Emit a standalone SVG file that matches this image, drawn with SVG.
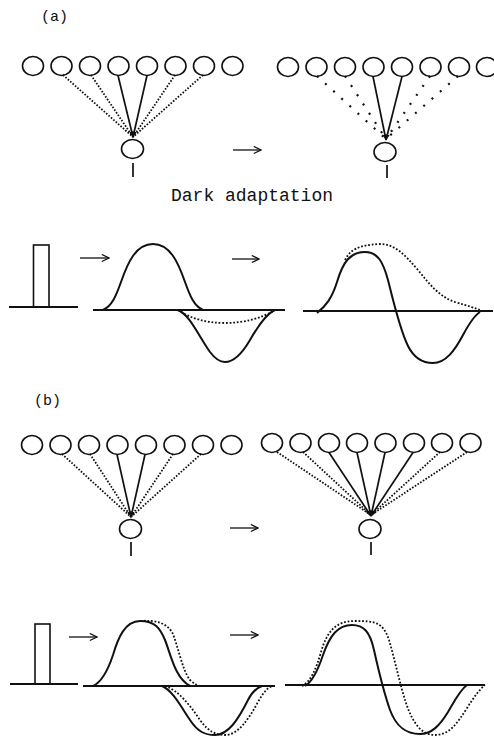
<svg xmlns="http://www.w3.org/2000/svg" width="494" height="736" viewBox="0 0 494 736">
<style>
.bg{fill:#fff}
.cell{fill:none;stroke:#111;stroke-width:1.6}
.solid{fill:none;stroke:#111;stroke-width:1.7}
.dot{fill:none;stroke:#111;stroke-width:1.8;stroke-dasharray:1.6,1.6}
.sparse{fill:none;stroke:#111;stroke-width:2.2;stroke-dasharray:2,9}
.curve{fill:none;stroke:#111;stroke-width:2}
.curvedot{fill:none;stroke:#111;stroke-width:1.8;stroke-dasharray:1.8,1.8}
.axis{fill:none;stroke:#111;stroke-width:2}
.arr{fill:none;stroke:#111;stroke-width:1.3}
.lbl{font-family:"Liberation Mono","DejaVu Sans Mono",monospace;fill:#111}
</style>
<defs>
<marker id="tip" viewBox="0 0 10 10" refX="9" refY="5" markerWidth="6" markerHeight="6" orient="auto" markerUnits="userSpaceOnUse">
<path d="M0,1 L10,5 L0,9 Z" fill="#111"/>
</marker>
<marker id="open" viewBox="0 0 10 10" refX="9" refY="5" markerWidth="9" markerHeight="9" orient="auto" markerUnits="userSpaceOnUse">
<path d="M1,1 L9,5 L1,9" fill="none" stroke="#111" stroke-width="1.3"/>
</marker>
</defs>
<rect class="bg" x="0" y="0" width="494" height="736"/>

<g id="labels">
<text class="lbl" x="41" y="21" font-size="15">(a)</text>
<text class="lbl" x="34" y="405" font-size="15">(b)</text>
<text class="lbl" x="171" y="201" font-size="18">Dark adaptation</text>
</g>

<!-- (a) left network -->
<g id="a-left-input">
<ellipse class="cell" cx="33" cy="66" rx="10.5" ry="9.5"/>
<ellipse class="cell" cx="61.5" cy="66" rx="10.5" ry="9.5"/>
<ellipse class="cell" cx="90" cy="66" rx="10.5" ry="9.5"/>
<ellipse class="cell" cx="118.5" cy="66" rx="10.5" ry="9.5"/>
<ellipse class="cell" cx="147" cy="66" rx="10.5" ry="9.5"/>
<ellipse class="cell" cx="175.5" cy="66" rx="10.5" ry="9.5"/>
<ellipse class="cell" cx="204" cy="66" rx="10.5" ry="9.5"/>
<ellipse class="cell" cx="232.5" cy="66" rx="10.5" ry="9.5"/>
</g>
<g id="a-left-output">
<ellipse class="cell" cx="132.5" cy="149" rx="11" ry="9.5"/>
<line class="solid" x1="133" y1="163" x2="133" y2="177"/>
</g>
<!-- (a) right network -->
<g id="a-right-input">
<ellipse class="cell" cx="288" cy="67" rx="10.5" ry="9.5"/>
<ellipse class="cell" cx="316.5" cy="67" rx="10.5" ry="9.5"/>
<ellipse class="cell" cx="345" cy="67" rx="10.5" ry="9.5"/>
<ellipse class="cell" cx="373.5" cy="67" rx="10.5" ry="9.5"/>
<ellipse class="cell" cx="402" cy="67" rx="10.5" ry="9.5"/>
<ellipse class="cell" cx="430.5" cy="67" rx="10.5" ry="9.5"/>
<ellipse class="cell" cx="459" cy="67" rx="10.5" ry="9.5"/>
<ellipse class="cell" cx="487" cy="67" rx="10.5" ry="9.5"/>
</g>
<g id="a-right-output">
<ellipse class="cell" cx="385" cy="152" rx="11" ry="9.5"/>
<line class="solid" x1="387" y1="165" x2="387" y2="178"/>
</g>
<!-- (b) left network -->
<g id="b-left-input">
<ellipse class="cell" cx="32" cy="445" rx="10.5" ry="9.5"/>
<ellipse class="cell" cx="60.5" cy="445" rx="10.5" ry="9.5"/>
<ellipse class="cell" cx="89" cy="445" rx="10.5" ry="9.5"/>
<ellipse class="cell" cx="117.5" cy="445" rx="10.5" ry="9.5"/>
<ellipse class="cell" cx="146" cy="445" rx="10.5" ry="9.5"/>
<ellipse class="cell" cx="174.5" cy="445" rx="10.5" ry="9.5"/>
<ellipse class="cell" cx="203" cy="445" rx="10.5" ry="9.5"/>
<ellipse class="cell" cx="231.5" cy="445" rx="10.5" ry="9.5"/>
</g>
<g id="b-left-output">
<ellipse class="cell" cx="130.5" cy="529" rx="11" ry="9.5"/>
<line class="solid" x1="131" y1="542" x2="131" y2="556"/>
</g>
<!-- (b) right network -->
<g id="b-right-input">
<ellipse class="cell" cx="272" cy="443" rx="10.5" ry="9.5"/>
<ellipse class="cell" cx="300.5" cy="443" rx="10.5" ry="9.5"/>
<ellipse class="cell" cx="329" cy="443" rx="10.5" ry="9.5"/>
<ellipse class="cell" cx="357" cy="443" rx="10.5" ry="9.5"/>
<ellipse class="cell" cx="385.5" cy="443" rx="10.5" ry="9.5"/>
<ellipse class="cell" cx="414" cy="443" rx="10.5" ry="9.5"/>
<ellipse class="cell" cx="442" cy="443" rx="10.5" ry="9.5"/>
<ellipse class="cell" cx="470.5" cy="443" rx="10.5" ry="9.5"/>
</g>
<g id="b-right-output">
<ellipse class="cell" cx="370" cy="529" rx="11" ry="9.5"/>
<line class="solid" x1="371" y1="542" x2="371" y2="555"/>
</g>

<g id="connectors">
<!-- (a) left -->
<line class="dot" x1="63" y1="75" x2="133" y2="137"/>
<line class="dot" x1="91" y1="75" x2="133" y2="137"/>
<line class="solid" x1="118" y1="75.5" x2="133" y2="137" marker-end="url(#tip)"/>
<line class="solid" x1="147" y1="75.5" x2="133" y2="137" marker-end="url(#tip)"/>
<line class="dot" x1="175" y1="75" x2="133" y2="137"/>
<line class="dot" x1="203" y1="75" x2="133" y2="137"/>
<!-- (a) right -->
<line class="sparse" x1="317" y1="76" x2="386" y2="139"/>
<line class="sparse" x1="345" y1="76" x2="386" y2="139"/>
<line class="solid" x1="373" y1="76.5" x2="386" y2="140" marker-end="url(#tip)"/>
<line class="solid" x1="402" y1="76.5" x2="386" y2="140" marker-end="url(#tip)"/>
<line class="sparse" x1="430" y1="76" x2="386" y2="139"/>
<line class="sparse" x1="458" y1="76" x2="386" y2="139"/>
<!-- (b) left -->
<line class="dot" x1="62" y1="454" x2="131" y2="517"/>
<line class="dot" x1="90" y1="454" x2="131" y2="517"/>
<line class="solid" x1="117" y1="454.5" x2="131" y2="517" marker-end="url(#tip)"/>
<line class="solid" x1="145" y1="454.5" x2="131" y2="517" marker-end="url(#tip)"/>
<line class="dot" x1="173" y1="454" x2="131" y2="517"/>
<line class="dot" x1="201" y1="454" x2="131" y2="517"/>
<!-- (b) right -->
<line class="dot" x1="277" y1="452" x2="371" y2="515"/>
<line class="dot" x1="303" y1="452" x2="371" y2="515"/>
<line class="solid" x1="329" y1="452.5" x2="371" y2="516" marker-end="url(#tip)"/>
<line class="solid" x1="357" y1="452.5" x2="371" y2="516" marker-end="url(#tip)"/>
<line class="solid" x1="385" y1="452.5" x2="371" y2="516" marker-end="url(#tip)"/>
<line class="solid" x1="413" y1="452.5" x2="371" y2="516" marker-end="url(#tip)"/>
<line class="dot" x1="440" y1="452" x2="371" y2="515"/>
<line class="dot" x1="467" y1="452" x2="371" y2="515"/>
<!-- transition arrows -->
<line class="arr" x1="233" y1="150" x2="261" y2="150" marker-end="url(#open)"/>
<line class="arr" x1="230" y1="528" x2="258" y2="528" marker-end="url(#open)"/>
<line class="arr" x1="80" y1="258" x2="109" y2="258" marker-end="url(#open)"/>
<line class="arr" x1="232" y1="259" x2="259" y2="259" marker-end="url(#open)"/>
<line class="arr" x1="69" y1="637" x2="97" y2="637" marker-end="url(#open)"/>
<line class="arr" x1="230" y1="635" x2="258" y2="635" marker-end="url(#open)"/>
</g>

<!-- (a) waveforms -->
<g id="a-stimulus">
<line class="axis" x1="9" y1="307" x2="78" y2="307"/>
<rect class="cell" x="33.5" y="245" width="15.5" height="62" stroke-width="1.8"/>
</g>
<g id="a-response-left">
<line class="axis" x1="93" y1="310" x2="285" y2="310"/>
<path class="curve" d="M103,310 C112,306 116,296 121,282 C128,262 136,244 153,244 C170,244 178,262 185,282 C190,296 194,306 203,310"/>
<path class="curve" d="M178,310 C190,315 198,335 210,352 C216,360 220,362 225,362 C235,362 243,352 250,340 C258,326 266,314 275,310"/>
<path class="curvedot" d="M178,310 C190,318 205,323 225,323 C245,323 262,318 275,310"/>
</g>
<g id="a-response-right">
<line class="axis" x1="303" y1="311" x2="493" y2="311"/>
<path class="curve" d="M317,313 C326,306 332,298 337,282 C343,262 350,252 365,252 C378,252 383,262 388,280 C393,300 400,330 408,346 C414,358 422,363 433,363 C446,363 455,350 463,335 C470,322 475,315 480,312"/>
<path class="curvedot" d="M345,260 C350,250 358,245 380,244 C395,244 405,255 418,270 C430,285 440,297 455,302 C468,306 475,308 480,310"/>
</g>

<!-- (b) waveforms -->
<g id="b-stimulus">
<line class="axis" x1="10" y1="684" x2="78" y2="684"/>
<rect class="cell" x="35" y="624" width="15" height="60" stroke-width="1.8"/>
</g>
<g id="b-response-left">
<line class="axis" x1="83" y1="686" x2="275" y2="686"/>
<path class="curve" d="M93,686 C102,682 108,670 113,655 C118,638 125,621 140,621 C155,621 160,628 165,640 C171,655 175,678 190,686"/>
<path class="curvedot" d="M140,621 C155,620 165,622 172,632 C178,645 182,670 190,680 C194,684 198,686 202,686"/>
<path class="curve" d="M162,686 C172,690 180,705 190,720 C198,732 205,735 215,735 C228,735 238,720 248,700 C252,692 256,688 262,686"/>
<path class="curvedot" d="M165,686 C178,690 190,705 200,720 C208,731 215,735 225,735 C238,735 248,720 258,702 C263,693 267,688 272,686"/>
</g>
<g id="b-response-right">
<line class="axis" x1="285" y1="685" x2="485" y2="685"/>
<path class="curve" d="M305,686 C312,682 318,670 323,655 C330,635 338,625 352,625 C364,625 370,632 374,650 C378,668 383,690 390,710 C396,726 405,734 420,734 C432,734 440,725 448,712 C455,700 460,690 467,685"/>
<path class="curvedot" d="M302,686 C310,682 316,670 321,652 C327,632 335,621 355,621 C375,621 383,622 389,640 C395,660 400,685 406,703 C413,724 422,735 435,735 C450,735 458,722 467,708 C474,697 479,690 485,685"/>
</g>
</svg>
